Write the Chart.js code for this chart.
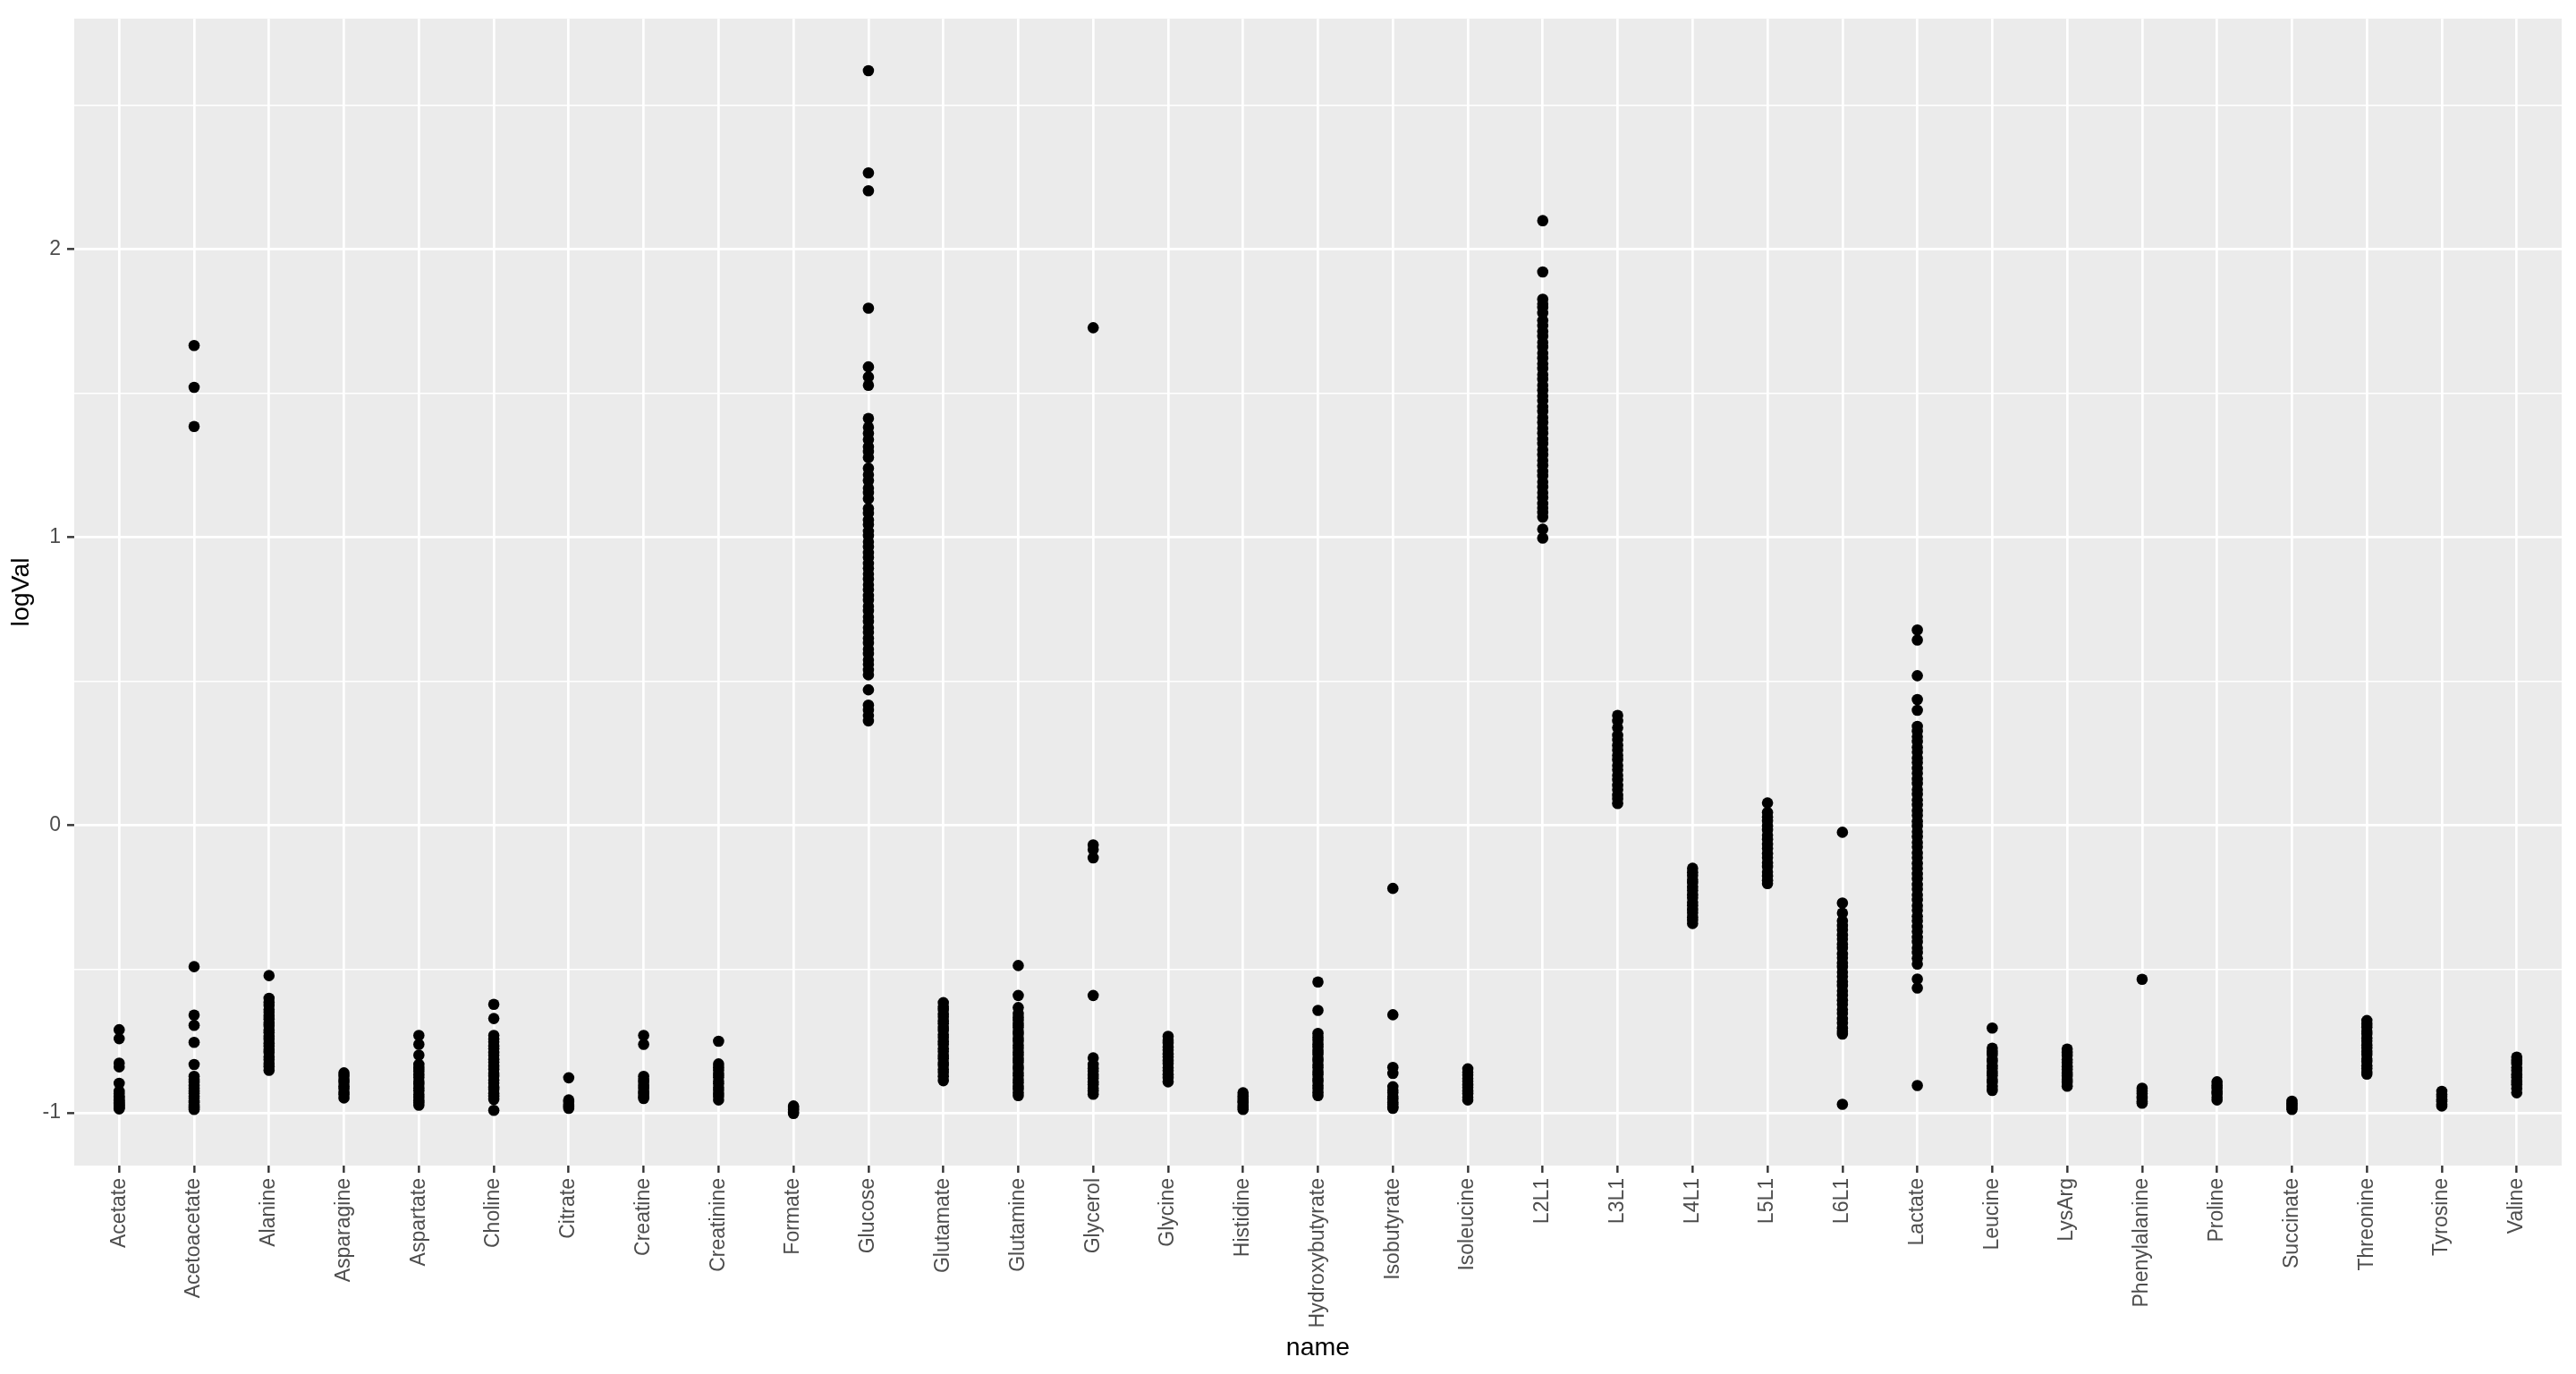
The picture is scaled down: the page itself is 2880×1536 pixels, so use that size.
<!DOCTYPE html>
<html><head><meta charset="utf-8">
<script src="https://cdn.jsdelivr.net/npm/chart.js@4"></script>
<style>html,body{margin:0;padding:0;background:#fff}#wrap{width:2880px;height:1536px}</style>
</head><body><div id="wrap"><canvas id="c" width="2880" height="1536"></canvas></div>
<script>
const categories = ["Acetate","Acetoacetate","Alanine","Asparagine","Aspartate","Choline","Citrate","Creatine","Creatinine","Formate","Glucose","Glutamate","Glutamine","Glycerol","Glycine","Histidine","Hydroxybutyrate","Isobutyrate","Isoleucine","L2L1","L3L1","L4L1","L5L1","L6L1","Lactate","Leucine","LysArg","Phenylalanine","Proline","Succinate","Threonine","Tyrosine","Valine"];
const yMajorTicks = [-1, 0, 1, 2];
const yMinorTicks = [-0.5, 0.5, 1.5, 2.5];

const acetate = [-0.711,-0.742,-0.827,-0.840,-0.897,-0.925,-0.933,-0.942,-0.947,-0.954,-0.958,-0.963,-0.966,-0.971,-0.973,-0.978,-0.980,-0.983,-0.986];
const acetoacetate = [1.666,1.521,1.385,-0.492,-0.660,-0.696,-0.755,-0.832,-0.873,-0.885,-0.894,-0.906,-0.914,-0.925,-0.932,-0.942,-0.949,-0.958,-0.963,-0.971,-0.976,-0.982,-0.988];
const alanine = [-0.523,-0.602,-0.616,-0.627,-0.641,-0.651,-0.664,-0.674,-0.689,-0.698,-0.712,-0.721,-0.735,-0.745,-0.758,-0.768,-0.782,-0.791,-0.805,-0.815,-0.829,-0.839,-0.852];
const asparagine = [-0.861,-0.872,-0.885,-0.894,-0.907,-0.915,-0.927,-0.936,-0.948];
const aspartate = [-0.731,-0.762,-0.799,-0.832,-0.844,-0.854,-0.867,-0.877,-0.890,-0.900,-0.913,-0.923,-0.936,-0.945,-0.957,-0.964,-0.973];
const choline = [-0.623,-0.672,-0.731,-0.743,-0.753,-0.767,-0.777,-0.791,-0.800,-0.814,-0.824,-0.838,-0.848,-0.862,-0.872,-0.886,-0.896,-0.910,-0.919,-0.932,-0.941,-0.953,-0.991];
const citrate = [-0.878,-0.955,-0.962,-0.971,-0.976,-0.984];
const creatine = [-0.731,-0.762,-0.873,-0.885,-0.894,-0.906,-0.914,-0.926,-0.934,-0.944,-0.950];
const creatinine = [-0.751,-0.830,-0.842,-0.852,-0.866,-0.876,-0.890,-0.899,-0.912,-0.921,-0.934,-0.943,-0.955];
const formate = [-0.976,-0.984,-0.989,-0.997,-1.002];
const glucose = [2.621,2.266,2.204,1.796,1.592,1.557,1.528,1.413,1.382,1.361,1.339,1.314,1.297,1.277,1.240,1.217,1.197,1.171,1.154,1.134,1.100,1.083,1.060,1.044,1.021,1.005,0.984,0.967,0.946,0.930,0.909,0.892,0.872,0.855,0.835,0.818,0.797,0.781,0.760,0.744,0.723,0.707,0.686,0.669,0.649,0.632,0.611,0.595,0.574,0.558,0.539,0.522,0.470,0.417,0.399,0.380,0.362];
const glutamate = [-0.617,-0.631,-0.642,-0.656,-0.666,-0.680,-0.690,-0.704,-0.714,-0.728,-0.738,-0.752,-0.762,-0.777,-0.787,-0.801,-0.811,-0.825,-0.835,-0.849,-0.859,-0.873,-0.888];
const glutamine = [-0.488,-0.592,-0.634,-0.655,-0.668,-0.678,-0.692,-0.702,-0.716,-0.726,-0.740,-0.751,-0.765,-0.775,-0.789,-0.799,-0.813,-0.823,-0.837,-0.847,-0.861,-0.871,-0.885,-0.895,-0.909,-0.917,-0.930,-0.940];
const glycerol = [1.728,-0.069,-0.085,-0.114,-0.592,-0.809,-0.832,-0.845,-0.855,-0.869,-0.879,-0.892,-0.901,-0.914,-0.923,-0.935];
const glycine = [-0.734,-0.747,-0.757,-0.771,-0.781,-0.795,-0.805,-0.819,-0.829,-0.843,-0.853,-0.867,-0.878,-0.892];
const histidine = [-0.930,-0.941,-0.949,-0.959,-0.965,-0.974,-0.980,-0.988];
const hydroxybutyrate = [-0.545,-0.644,-0.724,-0.737,-0.747,-0.761,-0.771,-0.785,-0.795,-0.809,-0.819,-0.833,-0.843,-0.857,-0.867,-0.881,-0.891,-0.905,-0.915,-0.929,-0.940];
const isobutyrate = [-0.220,-0.659,-0.842,-0.863,-0.909,-0.921,-0.930,-0.943,-0.951,-0.963,-0.970,-0.979,-0.984];
const isoleucine = [-0.847,-0.859,-0.868,-0.881,-0.890,-0.903,-0.912,-0.925,-0.933,-0.946,-0.955];
const l2l1 = [2.100,1.922,1.827,1.811,1.798,1.779,1.753,1.735,1.715,1.698,1.677,1.661,1.640,1.623,1.603,1.586,1.565,1.549,1.528,1.511,1.491,1.474,1.453,1.437,1.416,1.399,1.379,1.362,1.341,1.325,1.304,1.287,1.267,1.250,1.229,1.213,1.192,1.175,1.155,1.138,1.117,1.101,1.086,1.070,1.028,0.997];
const l3l1 = [0.381,0.362,0.338,0.312,0.296,0.277,0.261,0.242,0.227,0.207,0.192,0.173,0.157,0.138,0.123,0.104,0.091,0.075];
const l4l1 = [-0.150,-0.164,-0.175,-0.190,-0.201,-0.216,-0.227,-0.242,-0.253,-0.268,-0.279,-0.294,-0.305,-0.320,-0.330,-0.342];
const l5l1 = [0.077,0.044,0.028,0.014,-0.003,-0.017,-0.035,-0.049,-0.067,-0.081,-0.099,-0.113,-0.131,-0.145,-0.163,-0.177,-0.192,-0.203];
const l6l1 = [-0.025,-0.271,-0.306,-0.333,-0.350,-0.364,-0.382,-0.396,-0.414,-0.428,-0.447,-0.461,-0.479,-0.493,-0.511,-0.526,-0.544,-0.558,-0.576,-0.591,-0.609,-0.623,-0.641,-0.655,-0.673,-0.687,-0.705,-0.716,-0.726,-0.970];
const lactate = [0.678,0.643,0.519,0.436,0.399,0.343,0.327,0.307,0.290,0.270,0.254,0.233,0.217,0.197,0.180,0.160,0.144,0.123,0.107,0.087,0.070,0.050,0.034,0.013,-0.003,-0.023,-0.040,-0.060,-0.076,-0.097,-0.113,-0.133,-0.150,-0.170,-0.186,-0.207,-0.223,-0.243,-0.260,-0.280,-0.296,-0.317,-0.333,-0.353,-0.370,-0.390,-0.406,-0.427,-0.443,-0.463,-0.483,-0.535,-0.566,-0.905];
const leucine = [-0.705,-0.775,-0.788,-0.798,-0.812,-0.822,-0.836,-0.846,-0.860,-0.870,-0.884,-0.894,-0.909,-0.922];
const lysArg = [-0.778,-0.791,-0.801,-0.815,-0.825,-0.839,-0.849,-0.863,-0.872,-0.885,-0.894,-0.907];
const phenylalanine = [-0.536,-0.914,-0.925,-0.933,-0.944,-0.950,-0.960,-0.966];
const proline = [-0.892,-0.904,-0.913,-0.926,-0.934,-0.946,-0.955];
const succinate = [-0.959,-0.967,-0.972,-0.981,-0.988];
const threonine = [-0.679,-0.692,-0.702,-0.716,-0.726,-0.740,-0.750,-0.764,-0.774,-0.788,-0.798,-0.812,-0.822,-0.836,-0.846,-0.858,-0.865];
const tyrosine = [-0.925,-0.936,-0.944,-0.954,-0.960,-0.970,-0.976];
const valine = [-0.806,-0.819,-0.829,-0.843,-0.853,-0.867,-0.877,-0.891,-0.901,-0.915,-0.930];

const seriesByCategory = [acetate,acetoacetate,alanine,asparagine,aspartate,choline,citrate,creatine,creatinine,formate,glucose,glutamate,glutamine,glycerol,glycine,histidine,hydroxybutyrate,isobutyrate,isoleucine,l2l1,l3l1,l4l1,l5l1,l6l1,lactate,leucine,lysArg,phenylalanine,proline,succinate,threonine,tyrosine,valine];

const points = [];
seriesByCategory.forEach((arr, i) => arr.forEach(v => points.push({x: i, y: v})));

const FONT = "'Liberation Sans', Arial, Helvetica, sans-serif";
Chart.defaults.font.family = FONT;

const panelBg = {
  id: 'panelBg',
  beforeDraw(chart) {
    const {ctx, chartArea: a} = chart;
    ctx.save();
    ctx.fillStyle = '#EBEBEB';
    ctx.fillRect(a.left, a.top, a.right - a.left, a.bottom - a.top);
    ctx.restore();
  }
};

const isMajor = v => yMajorTicks.includes(v);

new Chart(document.getElementById('c'), {
  type: 'scatter',
  data: { datasets: [{ data: points, pointRadius: 6.3, pointHoverRadius: 6.3, pointBackgroundColor: '#000000', pointBorderWidth: 0, pointBorderColor: '#000000' }] },
  options: {
    responsive: false,
    animation: false,
    events: [],
    layout: { padding: { left: 0, top: 14, right: 16, bottom: 0 } },
    plugins: { legend: { display: false }, tooltip: { enabled: false } },
    scales: {
      x: {
        type: 'linear', min: -0.6, max: 32.6,
        afterBuildTicks: s => { s.ticks = categories.map((c, i) => ({ value: i })); },
        afterFit: s => { s.height = 233; },
        ticks: { autoSkip: false, minRotation: 90, maxRotation: 90, padding: 6, color: '#4D4D4D', font: { family: FONT, size: 23 },
                 callback: v => categories[Math.round(v)] },
        grid: { color: '#FFFFFF', lineWidth: 2.7, tickColor: '#333333', tickLength: 8, tickWidth: 2.4, drawTicks: true },
        border: { display: false },
        title: { display: true, text: 'name', color: '#000000', font: { family: FONT, size: 28.5 }, padding: { top: 0, bottom: 12 } }
      },
      y: {
        min: -1.183, max: 2.802,
        afterBuildTicks: s => { s.ticks = yMajorTicks.concat(yMinorTicks).sort((a, b) => a - b).map(v => ({ value: v })); },
        afterFit: s => { s.width = 83; },
        ticks: { padding: 7, color: '#4D4D4D', font: { family: FONT, size: 23 },
                 callback: v => isMajor(v) ? String(v) : '' },
        grid: { color: '#FFFFFF',
                lineWidth: ctx => isMajor(ctx.tick.value) ? 2.7 : 1.4,
                tickColor: ctx => isMajor(ctx.tick.value) ? '#333333' : 'rgba(0,0,0,0)',
                tickLength: 8, tickWidth: 2.4, drawTicks: true },
        border: { display: false },
        title: { display: true, text: 'logVal', color: '#000000', font: { family: FONT, size: 28.5 }, padding: { top: 7, bottom: 0 } }
      }
    }
  },
  plugins: [panelBg]
});
</script></body></html>
